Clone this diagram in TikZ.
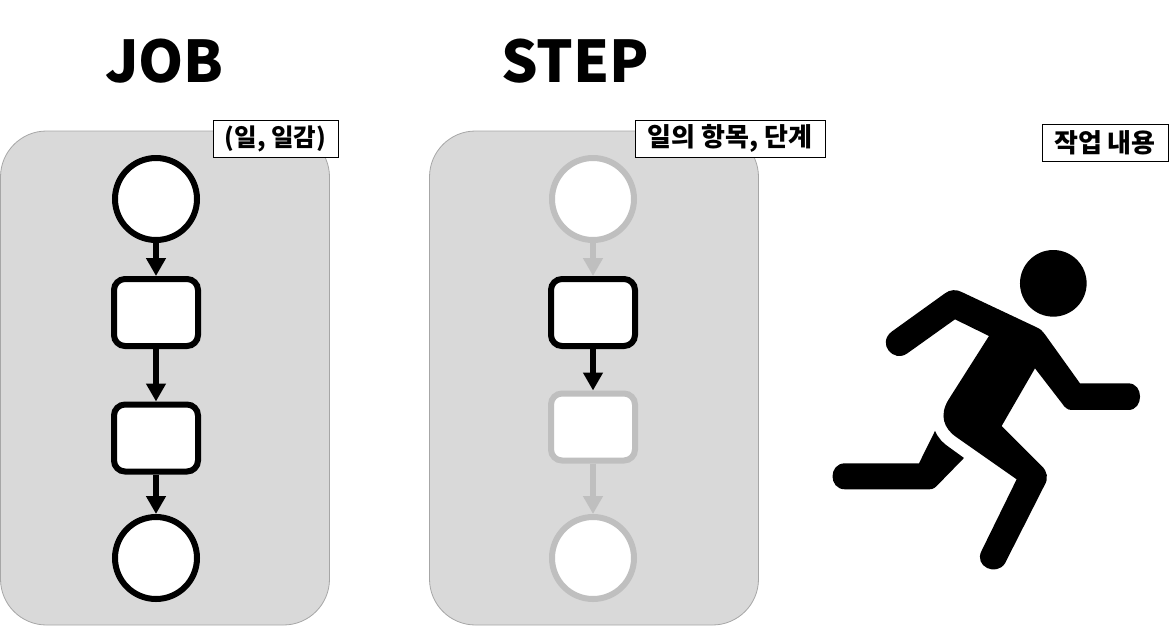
\documentclass[tikz,border=0pt]{standalone}
\usepackage{fontspec}
\setmainfont{Noto Sans CJK KR}
\usetikzlibrary{arrows.meta}
\usetikzlibrary{positioning}

\definecolor{panelfill}{HTML}{D9D9D9}
\definecolor{paneledge}{HTML}{A6A6A6}
\definecolor{fadegrey}{HTML}{BFBFBF}

\tikzset{
  panel/.style={draw=paneledge,line width=0.8pt,fill=panelfill,rounded corners=46pt,minimum width=329pt,minimum height=494pt},
  circ/.style={circle,draw=black,fill=white,line width=6pt,minimum size=82pt},
  box/.style={rectangle,rounded corners=11pt,draw=black,fill=white,line width=6pt,minimum width=84pt,minimum height=67pt},
  faded/.style={draw=fadegrey},
  flow/.style={draw=black,line width=5.5pt,-{Triangle[width=19pt,length=18pt]}},
  tag/.style={draw=black,line width=0.8pt,fill=white,font=\bfseries\fontsize{26}{26}\selectfont,inner sep=0pt,minimum height=37pt},
  heading/.style={font=\bfseries\fontsize{57.5}{58}\selectfont,inner sep=0pt}
}

\begin{document}
\begin{tikzpicture}[x=1pt,y=-1pt]
\useasboundingbox (0,0) rectangle (1171,625);

\node[heading] (jobtitle) at (164.5,61) {JOB};
\node[heading] (steptitle) at (575,61) {STEP};

\node[panel] (jobpanel) at (165,378) {};
\node[panel] (steppanel) at (594,378) {};

% job column
\node[circ] (jobstart) at (156,199) {};
\node[box] (jobfirst) at (156,312.5) {};
\node[box] (jobsecond) at (156,438) {};
\node[circ] (jobend) at (156,558) {};
\draw[flow] (jobstart) -- (jobfirst);
\draw[flow] (jobfirst) -- (jobsecond);
\draw[flow] (jobsecond) -- (jobend);

% step column
\node[circ,faded] (stepstart) at (593,199) {};
\node[box] (stepfirst) at (593,312.5) {};
\node[box,faded] (stepsecond) at (593,427) {};
\node[circ,faded] (stepend) at (593,558) {};
\draw[flow,faded] (stepstart) -- (stepfirst);
\draw[flow] (stepfirst) -- (stepsecond);
\draw[flow,faded] (stepsecond) -- (stepend);

\node[tag,minimum width=125pt,font=\bfseries\fontsize{24.5}{25}\selectfont] (jobtag) at (275.5,139) {(일, 일감)};
\node[tag,minimum width=190pt] (steptag) at (730,138.5) {일의 항목, 단계};
\node[tag,minimum width=126pt] (worktag) at (1105,143) {작업 내용};

% runner
\begin{scope}[shift={(820,230)},x=0.3333pt,y=-0.3333pt]
\fill (700,160) circle (100);
\fill (215,305) -- (375,190) .. controls (390,178) and (410,178) .. (425,186) -- (650,292)
  .. controls (662,297) and (668,304) .. (674,312) -- (780,460) -- (925,460)
  .. controls (972,460) and (972,540) .. (925,540) -- (755,540)
  .. controls (742,540) and (734,532) .. (726,520) -- (645,415) -- (545,588) -- (665,708)
  .. controls (682,724) and (686,745) .. (674,765) -- (555,1000)
  .. controls (530,1040) and (460,1010) .. (485,962) -- (590,748) -- (410,622)
  .. controls (370,595) and (358,555) .. (385,510) -- (507,318) -- (405,268) -- (262,370)
  .. controls (220,400) and (170,340) .. (215,305) -- cycle;
\fill (345,603) .. controls (355,625) and (370,640) .. (385,650) -- (432,684) -- (355,763)
  .. controls (347,772) and (340,778) .. (328,778) -- (75,778)
  .. controls (25,778) and (25,700) .. (75,700) -- (297,700) -- cycle;
\end{scope}

\end{tikzpicture}
\end{document}
